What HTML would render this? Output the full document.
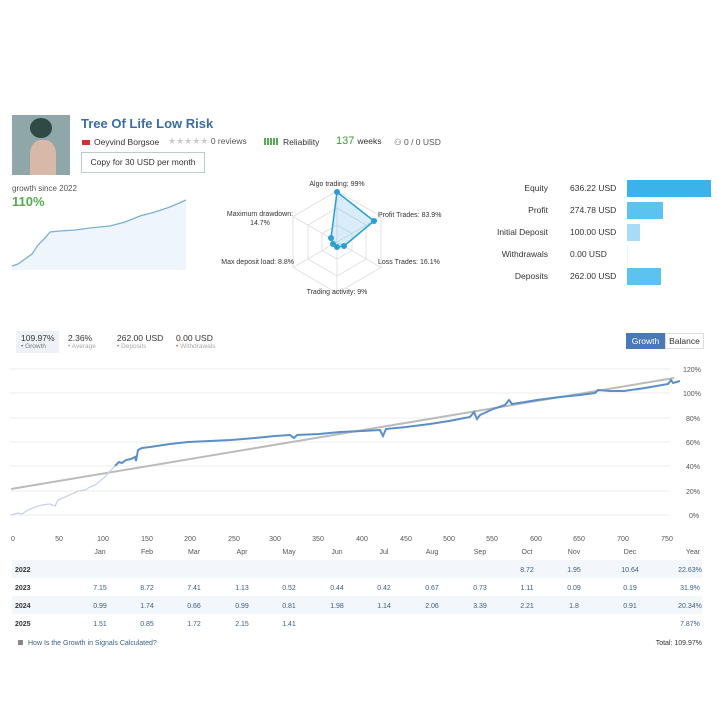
<!DOCTYPE html>
<html><head><meta charset="utf-8"><style>
body{margin:0;width:717px;height:717px;background:#fff;font-family:"Liberation Sans",sans-serif;position:relative;overflow:hidden;color:#333}
.a{position:absolute;white-space:nowrap}
.s{font-size:8px}
</style></head><body>
<div class="a" style="left:12px;top:115px;width:58px;height:60px;background:#8fa7a8"></div>
<div class="a" style="left:30px;top:140px;width:26px;height:35px;background:#d8b8a8;border-radius:40% 40% 0 0"></div>
<div class="a" style="left:30px;top:118px;width:22px;height:20px;background:#2f4a44;border-radius:50%"></div>
<div class="a" style="left:81px;top:116px;font-size:13px;color:#3a6ea5;font-weight:bold">Tree Of Life Low Risk</div>
<div class="a" style="left:82px;top:137px;font-size:8.5px"><span style="display:inline-block;width:8px;height:5px;background:#c33;margin-right:4px"></span>Oeyvind Borgsoe</div>
<div class="a" style="left:168px;top:136px;font-size:9px;color:#ccc">★★★★★ <span style="color:#555;font-size:8.5px">0 reviews</span></div>
<div class="a" style="left:264px;top:137px;font-size:8.5px"><span style="display:inline-block;width:14px;height:7px;background:repeating-linear-gradient(90deg,#5a5 0 2px,#fff 2px 3px);margin-right:5px"></span>Reliability</div>
<div class="a" style="left:336px;top:135px;font-size:11px;color:#3a9a3a">137 <span style="font-size:8.5px;color:#333">weeks</span></div>
<div class="a" style="left:394px;top:137px;font-size:8.5px;color:#555">⚇ 0 / 0 USD</div>
<div class="a" style="left:81px;top:152px;width:122px;height:19px;border:1px solid #bcc;font-size:8.5px;line-height:19px;text-align:center">Copy for 30 USD per month</div>
<div class="a" style="left:12px;top:184px;font-size:8px;color:#555">growth since 2022</div>
<div class="a" style="left:12px;top:194px;font-size:13px;color:#5a5;font-weight:bold">110%</div>
<svg class="a" style="left:0;top:0" width="717" height="717">
<path d="M12 266 L18 264 L25 259 L32 254 L38 245 L45 238 L50 232 L60 231 L75 230 L90 228 L110 226 L125 222 L140 216 L155 212 L170 207 L186 200 L186 270 L12 270Z" fill="#eef5fc"/>
<path d="M12 266 L18 264 L25 259 L32 254 L38 245 L45 238 L50 232 L60 231 L75 230 L90 228 L110 226 L125 222 L140 216 L155 212 L170 207 L186 200" fill="none" stroke="#7ab0d6" stroke-width="1.3"/>
<g fill="none" stroke="#ddd" stroke-width="0.8">
<polygon points="337,191 381,216.5 381,267.5 337,293 293,267.5 293,216.5"/>
<polygon points="337,208 366,225 366,259 337,276 308,259 308,225"/>
<polygon points="337,225 352,233.5 352,250.5 337,259 322,250.5 322,233.5"/>
<path d="M337 191V293M293 216.5L381 267.5M381 216.5L293 267.5"/>
</g>
<polygon points="337,192 374,221 344,246 337,247 333,244 331,238" fill="rgba(100,180,230,.25)" stroke="#2a9fd6" stroke-width="1.5"/>
<g fill="#2a9fd6"><circle cx="337" cy="192" r="3"/><circle cx="374" cy="221" r="3"/><circle cx="344" cy="246" r="3"/><circle cx="337" cy="247" r="3"/><circle cx="333" cy="244" r="3"/><circle cx="331" cy="238" r="3"/></g>
<g font-size="7" fill="#333" font-family="Liberation Sans">
<text x="337" y="186" text-anchor="middle">Algo trading: 99%</text>
<text x="378" y="217">Profit Trades: 83.9%</text>
<text x="378" y="264">Loss Trades: 16.1%</text>
<text x="337" y="294" text-anchor="middle">Trading activity: 9%</text>
<text x="294" y="264" text-anchor="end">Max deposit load: 8.8%</text>
<text x="260" y="216" text-anchor="middle">Maximum drawdown:</text>
<text x="260" y="225" text-anchor="middle">14.7%</text>
</g>
<g font-size="8.5" fill="#333" font-family="Liberation Sans">
<text x="548" y="191" text-anchor="end">Equity</text><text x="570" y="191">636.22 USD</text>
<text x="548" y="213" text-anchor="end">Profit</text><text x="570" y="213">274.78 USD</text>
<text x="548" y="235" text-anchor="end">Initial Deposit</text><text x="570" y="235">100.00 USD</text>
<text x="548" y="257" text-anchor="end">Withdrawals</text><text x="570" y="257">0.00 USD</text>
<text x="548" y="279" text-anchor="end">Deposits</text><text x="570" y="279">262.00 USD</text>
</g>
<rect x="627" y="180" width="84" height="17" fill="#3bb3ea"/>
<rect x="627" y="202" width="36" height="17" fill="#5cc2ef"/>
<rect x="627" y="224" width="13" height="17" fill="#a8dcf6"/>
<rect x="627" y="246" width="1" height="17" fill="#e4f2fb"/>
<rect x="627" y="268" width="34" height="17" fill="#5cc2ef"/>
<g stroke="#eee" stroke-width="1">
<path d="M10 369H670M10 393H670M10 418H670M10 442H670M10 466H670M10 491H670M10 515H670"/>
</g>
<g font-size="7" fill="#555" font-family="Liberation Sans">
<text x="683" y="372">120%</text><text x="683" y="396">100%</text><text x="686" y="421">80%</text><text x="686" y="445">60%</text><text x="686" y="469">40%</text><text x="686" y="494">20%</text><text x="689" y="518">0%</text>
<text x="13" y="541" text-anchor="middle">0</text><text x="59" y="541" text-anchor="middle">50</text><text x="103" y="541" text-anchor="middle">100</text><text x="147" y="541" text-anchor="middle">150</text><text x="190" y="541" text-anchor="middle">200</text><text x="234" y="541" text-anchor="middle">250</text><text x="275" y="541" text-anchor="middle">300</text><text x="318" y="541" text-anchor="middle">350</text><text x="362" y="541" text-anchor="middle">400</text><text x="406" y="541" text-anchor="middle">450</text><text x="449" y="541" text-anchor="middle">500</text><text x="492" y="541" text-anchor="middle">550</text><text x="536" y="541" text-anchor="middle">600</text><text x="579" y="541" text-anchor="middle">650</text><text x="623" y="541" text-anchor="middle">700</text><text x="667" y="541" text-anchor="middle">750</text>
</g>
<path d="M11 489L674 378" stroke="#bbb" stroke-width="2"/>
<path d="M11 515L18 513L22 514L28 510L35 507L42 505L50 504L55 506L58 500L65 497L72 494L78 491L85 490L90 487L95 485L100 481L105 477L109 472L115 466" fill="none" stroke="#c8d3e6" stroke-width="1.3"/>
<path d="M115 466L119 462L122 463L126 460L131 459L135 457L136 461L138 450L142 448L150 447L170 444L188 442L210 441L231 440L255 438L275 436L290 435L294 438L297 435L319 434L340 432L362 431L380 430L383 436L386 429L406 427L430 424L449 421L470 417L474 412L477 419L480 415L493 409L505 405L509 400L512 404L525 402L537 400L560 397L580 395L595 393L598 390L610 391L624 391L645 388L668 384L671 380L673 383L680 381" fill="none" stroke="#5b8fc7" stroke-width="2"/>
</svg>
<div class="a" style="left:16px;top:331px;width:43px;height:22px;background:#eef2f8"></div>
<div class="a" style="left:21px;top:333px;font-size:8.5px">109.97%</div><div class="a s" style="left:21px;top:343px;font-size:6.5px;color:#777">• Growth</div>
<div class="a" style="left:68px;top:333px;font-size:8.5px">2.36%</div><div class="a s" style="left:68px;top:343px;font-size:6.5px;color:#aaa">• Average</div>
<div class="a" style="left:117px;top:333px;font-size:8.5px">262.00 USD</div><div class="a s" style="left:117px;top:343px;font-size:6.5px;color:#aaa"><span style="color:#5a5">•</span> Deposits</div>
<div class="a" style="left:176px;top:333px;font-size:8.5px">0.00 USD</div><div class="a s" style="left:176px;top:343px;font-size:6.5px;color:#aaa"><span style="color:#c53">•</span> Withdrawals</div>
<div class="a" style="left:626px;top:333px;width:39px;height:16px;background:#4a79b8;color:#fff;font-size:8.5px;line-height:16px;text-align:center">Growth</div>
<div class="a" style="left:665px;top:333px;width:39px;height:16px;border:1px solid #ddd;box-sizing:border-box;font-size:8.5px;line-height:15px;text-align:center">Balance</div>
<div class="a" style="left:12px;top:560px;width:690px;height:18px;background:#f3f6fb"></div>
<div class="a" style="left:12px;top:596px;width:690px;height:18px;background:#f3f6fb"></div>
<svg class="a" style="left:0;top:0" width="717" height="717" font-family="Liberation Sans" font-size="7">
<g fill="#555" text-anchor="middle"><text x="100" y="554">Jan</text><text x="147" y="554">Feb</text><text x="194" y="554">Mar</text><text x="242" y="554">Apr</text><text x="289" y="554">May</text><text x="337" y="554">Jun</text><text x="384" y="554">Jul</text><text x="432" y="554">Aug</text><text x="480" y="554">Sep</text><text x="527" y="554">Oct</text><text x="574" y="554">Nov</text><text x="630" y="554">Dec</text><text x="693" y="554">Year</text></g>
<g fill="#333" font-weight="bold"><text x="15" y="572">2022</text><text x="15" y="590">2023</text><text x="15" y="608">2024</text><text x="15" y="626">2025</text></g>
<g fill="#3a5f8a" text-anchor="middle">
<text x="527" y="572">8.72</text><text x="574" y="572">1.95</text><text x="630" y="572">10.64</text><text x="690" y="572">22.63%</text>
<text x="100" y="590">7.15</text><text x="147" y="590">8.72</text><text x="194" y="590">7.41</text><text x="242" y="590">1.13</text><text x="289" y="590">0.52</text><text x="337" y="590">0.44</text><text x="384" y="590">0.42</text><text x="432" y="590">0.67</text><text x="480" y="590">0.73</text><text x="527" y="590">1.11</text><text x="574" y="590">0.09</text><text x="630" y="590">0.19</text><text x="690" y="590">31.9%</text>
<text x="100" y="608">0.99</text><text x="147" y="608">1.74</text><text x="194" y="608">0.66</text><text x="242" y="608">0.99</text><text x="289" y="608">0.81</text><text x="337" y="608">1.98</text><text x="384" y="608">1.14</text><text x="432" y="608">2.06</text><text x="480" y="608">3.39</text><text x="527" y="608">2.21</text><text x="574" y="608">1.8</text><text x="630" y="608">0.91</text><text x="690" y="608">20.34%</text>
<text x="100" y="626">1.51</text><text x="147" y="626">0.85</text><text x="194" y="626">1.72</text><text x="242" y="626">2.15</text><text x="289" y="626">1.41</text><text x="690" y="626">7.87%</text>
</g>
<text x="28" y="645" fill="#3a5f8a">How Is the Growth in Signals Calculated?</text>
<rect x="18" y="640" width="5" height="5" fill="#888"/>
<text x="702" y="645" text-anchor="end" fill="#333">Total: 109.97%</text>
</svg>
</body></html>
